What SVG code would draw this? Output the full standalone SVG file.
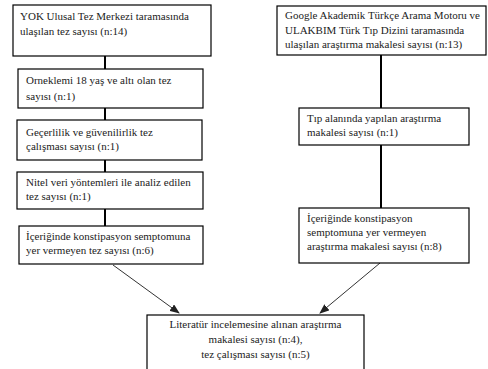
<svg xmlns="http://www.w3.org/2000/svg" width="488" height="369" viewBox="0 0 488 369">
<defs>
<style>
.box{fill:#fff;stroke:#000;stroke-width:1.2}
.t{font-family:'Liberation Serif',serif;font-size:11px;fill:#222}
.c{stroke:#000;stroke-width:2;fill:none}
.a{stroke:#333;stroke-width:1;fill:none}
</style>
<marker id="ah" markerWidth="10" markerHeight="8" refX="9" refY="4" orient="auto" markerUnits="userSpaceOnUse">
<path d="M0,0 L10,4 L0,8 Z" fill="#222"/>
</marker>
</defs>
<rect width="488" height="369" fill="#fff"/>
<g id="connectors">
<line class="c" x1="105" y1="56" x2="105" y2="69"/>
<line class="c" x1="105" y1="108" x2="105" y2="120"/>
<line class="c" x1="105" y1="160" x2="105" y2="172"/>
<line class="c" x1="105" y1="209" x2="105" y2="226"/>
<line class="c" x1="381" y1="55" x2="381" y2="108"/>
<line class="c" x1="381" y1="145" x2="381" y2="208"/>
<line class="a" x1="113" y1="265" x2="179" y2="313" marker-end="url(#ah)"/>
<line class="a" x1="380" y1="263" x2="320" y2="313" marker-end="url(#ah)"/>
</g>
<g class="t" font-family="Liberation Serif, Times New Roman, serif">
<g id="n1">
<rect class="box" x="13" y="5" width="198" height="51"/>
<text x="20" y="20">YOK Ulusal Tez Merkezi taramasında</text>
<text x="20" y="35">ulaşılan tez sayısı (n:14)</text>
</g>
<g id="n2">
<rect class="box" x="18" y="69" width="185" height="39"/>
<text x="26" y="84">Orneklemi 18 yaş ve altı olan tez</text>
<text x="26" y="100">sayısı (n:1)</text>
</g>
<g id="n3">
<rect class="box" x="17" y="120" width="185" height="40"/>
<text x="26" y="136">Geçerlilik ve güvenilirlik tez</text>
<text x="26" y="150">çalışması sayısı (n:1)</text>
</g>
<g id="n4">
<rect class="box" x="17" y="172" width="186" height="37"/>
<text x="26" y="186">Nitel veri yöntemleri ile analiz edilen</text>
<text x="26" y="200">tez sayısı (n:1)</text>
</g>
<g id="n5">
<rect class="box" x="19" y="226" width="184" height="38"/>
<text x="26" y="240">İçeriğinde konstipasyon semptomuna</text>
<text x="26" y="254">yer vermeyen tez sayısı (n:6)</text>
</g>
<g id="r1">
<rect class="box" x="277" y="6" width="209" height="49"/>
<text x="285" y="19">Google Akademik Türkçe Arama Motoru ve</text>
<text x="285" y="34">ULAKBIM Türk Tıp Dizini taramasında</text>
<text x="285" y="48">ulaşılan araştırma makalesi sayısı (n:13)</text>
</g>
<g id="r2">
<rect class="box" x="299" y="108" width="170" height="37"/>
<text x="307" y="122">Tıp alanında yapılan araştırma</text>
<text x="307" y="136">makalesi sayısı (n:1)</text>
</g>
<g id="r3">
<rect class="box" x="299" y="208" width="170" height="55"/>
<text x="307" y="222">İçeriğinde konstipasyon</text>
<text x="307" y="236">semptomuna yer vermeyen</text>
<text x="307" y="250">araştırma makalesi sayısı (n:8)</text>
</g>
<g id="bottom">
<rect class="box" x="147" y="315" width="217" height="60"/>
<text x="255.5" y="328" text-anchor="middle">Literatür incelemesine alınan araştırma</text>
<text x="255.5" y="343" text-anchor="middle">makalesi sayısı (n:4),</text>
<text x="255.5" y="358" text-anchor="middle">tez çalışması sayısı (n:5)</text>
</g>
</g>
</svg>
